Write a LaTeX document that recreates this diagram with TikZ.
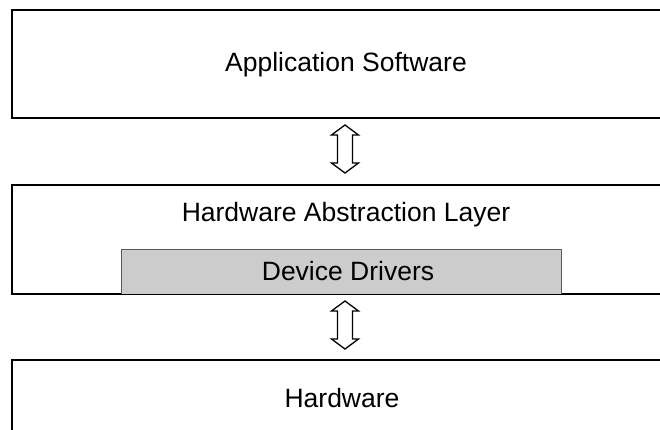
\documentclass[tikz,border=0pt]{standalone}
\usepackage{fontspec}
\setmainfont{Liberation Sans}
\definecolor{ddfill}{HTML}{CCCCCC}
\definecolor{ddline}{HTML}{5A5A5A}
\begin{document}
\begin{tikzpicture}[x=1pt,y=-1pt,
  layer/.style={draw=black,line width=1.6pt,fill=white,anchor=north west,inner sep=0pt,minimum width=700pt},
  drvbox/.style={draw=ddline,line width=1.4pt,fill=ddfill,anchor=north west,inner sep=0pt},
  lbl/.style={font=\fontsize{26.5}{30}\selectfont,anchor=base,inner sep=0pt},
  updown/.pic={
    \draw[line width=1.3pt,fill=white,line join=miter]
      (0,-24) -- (13.5,-14) -- (7.5,-14) -- (7.5,14) -- (13.5,14) -- (0,24)
      -- (-13.5,14) -- (-7.5,14) -- (-7.5,-14) -- (-13.5,-14) -- cycle;
  }]
\useasboundingbox (0,0) rectangle (660,430);
\clip (0,0) rectangle (660,430);
\fill[white] (0,0) rectangle (660,430);
% layers
\node[layer,minimum height=108pt] (app) at (11,9) {};
\node[layer,minimum height=109pt] (hal) at (11,184) {};
\node[drvbox,minimum width=440pt,minimum height=45pt] (drv) at (121,249) {};
\node[layer,minimum height=100pt] (hw) at (11,359) {};
% texts
\node[lbl] (tapp) at (346,72) {Application Software};
\node[lbl] (thal) at (346,222) {Hardware Abstraction Layer};
\node[lbl] (tdrv) at (348,280) {Device Drivers};
\node[lbl] (thw) at (342,407) {Hardware};
% redraw bottom edge of HAL over drivers box
\draw[line width=1.6pt] (hal.south west) -- (hal.south east);
% arrows
\pic at (345,149) {updown};
\pic at (345,325) {updown};
\end{tikzpicture}
\end{document}
